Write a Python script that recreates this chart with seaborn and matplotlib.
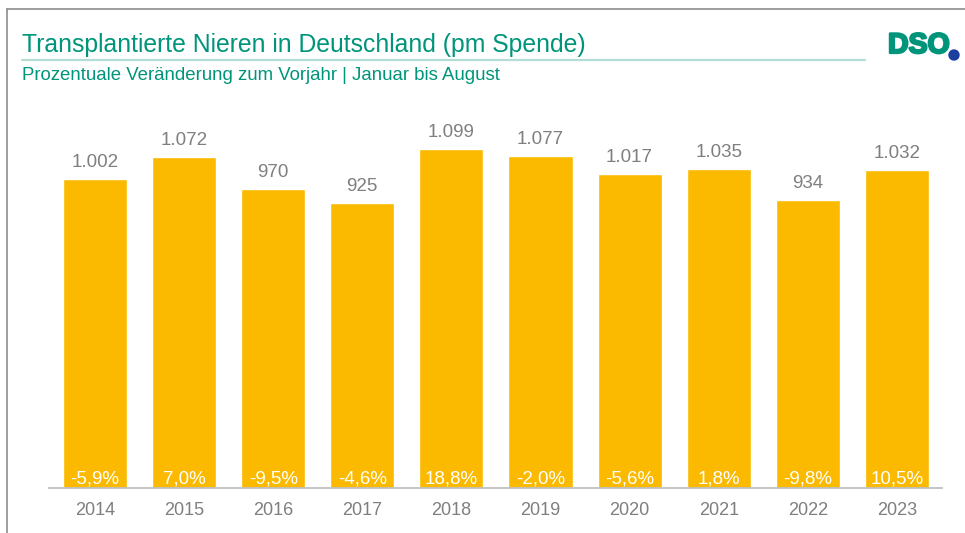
import matplotlib
matplotlib.use("Agg")
import matplotlib.pyplot as plt
import matplotlib.patheffects as pe
import seaborn as sns
import pandas as pd
from matplotlib.lines import Line2D
from matplotlib.patches import Ellipse

years = ["2014", "2015", "2016", "2017", "2018", "2019", "2020", "2021", "2022", "2023"]
values = [1002, 1072, 970, 925, 1099, 1077, 1017, 1035, 934, 1032]
value_labels = ["1.002", "1.072", "970", "925", "1.099", "1.077", "1.017", "1.035", "934", "1.032"]
pct_labels = ["-5,9%", "7,0%", "-9,5%", "-4,6%", "18,8%", "-2,0%", "-5,6%", "1,8%", "-9,8%", "10,5%"]

title = "Transplantierte Nieren in Deutschland (pm Spende)"
subtitle = "Prozentuale Veränderung zum Vorjahr | Januar bis August"

sns.set_theme(style="white")
plt.rcParams["font.family"] = ["Liberation Sans", "DejaVu Sans"]

W, H = 965, 533
fig = plt.figure(figsize=(W / 100, H / 100), dpi=100)
fig.patch.set_facecolor("white")

ax_left, ax_right, ax_base, ax_top = 49, 942, 488, 117.8
ax = fig.add_axes([ax_left / W, 1 - ax_base / H, (ax_right - ax_left) / W, (ax_base - ax_top) / H])

df = pd.DataFrame({"year": years, "value": values})
sns.barplot(data=df, x="year", y="value", color="#FBBA00", saturation=1, width=0.72, ax=ax)

ax.set_ylim(0, 1200)
ax.set_xlim(-0.516, 9.506)
for s in ["top", "right", "left"]:
    ax.spines[s].set_visible(False)
ax.spines["bottom"].set_color("#BFBFBF")
ax.spines["bottom"].set_linewidth(1.3)
ax.set_yticks([])
ax.set_xlabel("")
ax.set_ylabel("")
ax.tick_params(axis="x", length=0, pad=10, labelsize=13, labelcolor="#7F7F7F")

for i, (v, vl, pl) in enumerate(zip(values, value_labels, pct_labels)):
    ax.annotate(vl, (i, v), xytext=(0, 8.5), textcoords="offset points",
                ha="center", va="baseline", fontsize=13.5, color="#7F7F7F")
    ax.annotate(pl, (i, 0), xytext=(0, 3.6), textcoords="offset points",
                ha="center", va="baseline", fontsize=13.5, color="white")

# Frame lines
fig.add_artist(Line2D([7 / W, 1], [1 - 9 / H, 1 - 9 / H], color="#8C8C8C", lw=1.2))
fig.add_artist(Line2D([7 / W, 7 / W], [1 - 9 / H, 0], color="#8C8C8C", lw=1.2))

# Title, rule, subtitle
teal = "#00957A"
fig.text(22 / W, 1 - 51.7 / H, title, fontsize=17.8, color=teal, ha="left", va="baseline")
fig.add_artist(Line2D([22 / W, 865 / W], [1 - 60 / H, 1 - 60 / H], color="#B3DDD5", lw=1.6))
fig.text(22 / W, 1 - 80 / H, subtitle, fontsize=13.45, color=teal, ha="left", va="baseline")

# Logo
fig.text(888 / W, 1 - 53 / H, "DSO", fontsize=20.5, fontweight="bold", color="#00957A",
         ha="left", va="baseline",
         path_effects=[pe.withStroke(linewidth=1.6, foreground="#00957A")])
fig.add_artist(Ellipse((954 / W, 1 - 55 / H), 10 / W, 10 / H, transform=fig.transFigure,
                       color="#1B3F9E"))

fig.savefig("out.png", dpi=100)
